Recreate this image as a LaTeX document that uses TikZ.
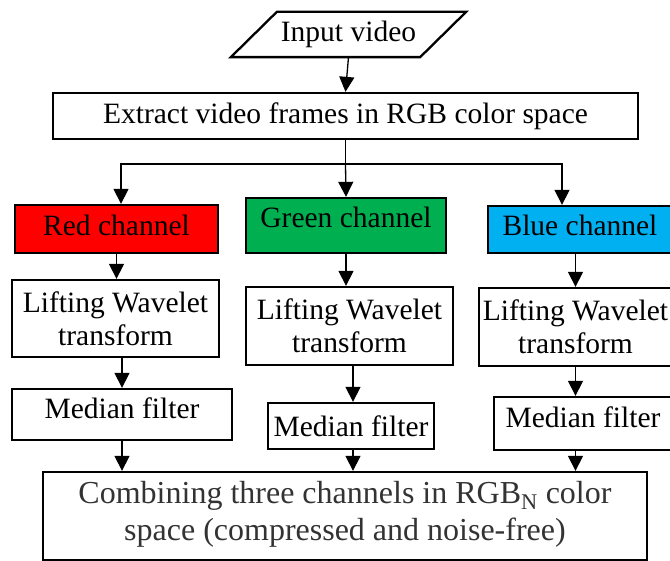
\documentclass[tikz,border=0pt]{standalone}
\usepackage{xcolor}
\usepackage{fontspec}
\setmainfont{Liberation Serif}
\usepackage{tikz}
\usetikzlibrary{arrows.meta}

\definecolor{chred}{HTML}{FF0000}
\definecolor{chgreen}{HTML}{00B050}
\definecolor{chblue}{HTML}{00B0F0}

\tikzset{
  box/.style={draw, line width=2.3pt, inner sep=0pt, align=center,
              font=\fontsize{29.5}{33}\selectfont},
  arr/.style={line width=1.3pt, -{Triangle[length=15pt,width=15pt]}}
}

\begin{document}
\begin{tikzpicture}[x=1pt,y=-1pt]
             \useasboundingbox (0,0) rectangle (670,561);

             % input
             \node[box, draw=none, minimum width=187pt, minimum height=43pt] (inp) at (348.5,34.5) {Input video};
             \draw[line width=2.3pt] ([xshift=-23pt]inp.south west) -- ([xshift=23pt]inp.north west)
                  -- ([xshift=23pt]inp.north east) -- ([xshift=-23pt]inp.south east) -- cycle;

             \node[box, minimum width=585pt, minimum height=46pt] (ext) at (345.5,116) {Extract video frames in RGB color space};

             % channels
             \node[box, fill=chred, text depth=8pt, minimum width=203pt, minimum height=48pt] (red) at (116.5,229) {Red channel};
             \node[box, fill=chgreen, text depth=16pt, minimum width=200pt, minimum height=55pt] (green) at (346,225.5) {Green channel};
             \node[box, fill=chblue, text depth=8pt, minimum width=184pt, minimum height=47pt] (blue) at (580,229.5) {Blue channel};

             \node[box, minimum width=207pt, minimum height=77pt] (lw1) at (115.5,318.5) {Lifting Wavelet\\transform};
             \node[box, minimum width=207pt, minimum height=78pt] (lw2) at (349.5,326) {Lifting Wavelet\\transform};
             \node[box, minimum width=193pt, minimum height=78pt] (lw3) at (575.5,327) {Lifting Wavelet\\transform};

             \node[box, text depth=12pt, minimum width=220pt, minimum height=51pt] (mf1) at (122,414.5) {Median filter};
             \node[box, minimum width=166pt, minimum height=46pt] (mf2) at (351,426) {Median filter};
             \node[box, text depth=12pt, minimum width=178pt, minimum height=53pt] (mf3) at (583,423.5) {Median filter};

             \node[box, text=black!80, text depth=10pt, minimum width=604pt, minimum height=88pt,
                   font=\fontsize{32}{37}\selectfont] (comb) at (345,516)
                  {Combining three channels in RGB\textsubscript{N} color\\space (compressed and noise-free)};

             % connectors
             \draw[arr] (inp.south) -- (ext.north);
             \draw[arr] (ext.south) -- ++(0,24) coordinate (split) -| ([xshift=4.5pt]red.north);
             \draw[arr] (split) -- (green.north);
             \draw[arr] (split) -| ([xshift=-18pt]blue.north);

             \draw[arr] (red.south) -- (red.south |- lw1.north);
             \draw[arr] (green.south) -- (green.south |- lw2.north);
             \draw[arr] (lw3.north |- blue.south) -- (lw3.north);

             \draw[arr] (mf1.north |- lw1.south) -- (mf1.north);
             \draw[arr] ([xshift=2pt]mf2.north |- lw2.south) -- ([xshift=2pt]mf2.north);
             \draw[arr] (lw3.south) -- (lw3.south |- mf3.north);

             \draw[arr] (mf1.south) -- (mf1.south |- comb.north);
             \draw[arr] ([xshift=2pt]mf2.south) -- ([xshift=2pt]mf2.south |- comb.north);
             \draw[arr] (lw3.south |- mf3.south) -- (lw3.south |- comb.north);
             \end{tikzpicture}
\end{document}
